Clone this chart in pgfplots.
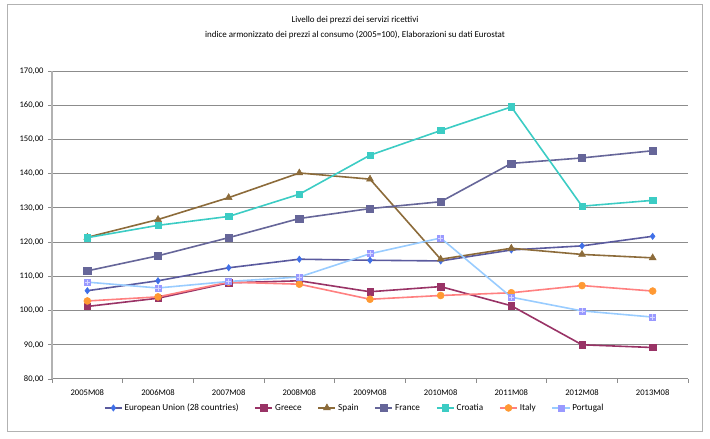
\documentclass[border=0pt]{standalone}
\usepackage{pgfplots}
\pgfplotsset{compat=1.18}
\usepackage{fontspec}
\setmainfont{Carlito}
\definecolor{euline}{HTML}{5A5A9E}
\definecolor{eumark}{HTML}{3F6FE8}
\definecolor{greece}{HTML}{993366}
\definecolor{spain}{HTML}{8C6B3A}
\definecolor{france}{HTML}{666699}
\definecolor{croatia}{HTML}{3CCCC4}
\definecolor{italyline}{HTML}{FF8080}
\definecolor{italymark}{HTML}{FF9933}
\definecolor{portline}{HTML}{99CCFF}
\definecolor{portmark}{HTML}{9999FF}
\definecolor{gridc}{HTML}{8C8C8C}
\begin{document}
\begin{tikzpicture}[x=1bp,y=1bp]
\path[use as bounding box] (0,0) rectangle (710,439);
\draw[line width=1bp, black!30] (7,7) rectangle (702,434);
\node[font=\fontsize{9}{10}\selectfont] at (355,419) {Livello dei prezzi dei servizi ricettivi};
\node[font=\fontsize{9}{10}\selectfont] at (355,404) {indice armonizzato dei prezzi al consumo (2005=100), Elaborazioni su dati Eurostat};
\begin{axis}[
  at={(52bp,60bp)}, anchor=south west,
  width=636bp, height=308bp, scale only axis,
  xmin=-0.5, xmax=8.5, ymin=80, ymax=170,
  xtick={0,...,8},
  xticklabels={2005M08,2006M08,2007M08,2008M08,2009M08,2010M08,2011M08,2012M08,2013M08},
  minor xtick={-0.5,0.5,...,8.5},
  major x tick style={draw=none},
  minor x tick style={gridc, line width=0.8bp},
  minor tick length=4bp,
  ytick={80,90,...,170},
  major y tick style={gridc, line width=0.8bp},
  major tick length=4bp,
  tick align=outside,
  axis x line*=bottom, axis y line*=left,
  axis line style={gridc, line width=1bp},
  y axis line style={black!30, line width=1.5bp},
  ymajorgrids, grid style={gridc, line width=1bp},
  /pgf/number format/assume math mode=true,
  yticklabel style={/pgf/number format/fixed, /pgf/number format/fixed zerofill, /pgf/number format/precision=2, /pgf/number format/use comma, xshift=-1bp},
  ticklabel style={font=\fontsize{8.6}{9}\selectfont},
  xticklabel style={yshift=-3bp},
  legend columns=7,
  legend style={at={(0.476,-0.094)}, anchor=center, draw=none, fill=none,
    font=\fontsize{9.2}{10}\selectfont, column sep=0bp,
    /tikz/every even column/.append style={column sep=14bp}},
  legend image post style={xscale=1.0},
  every axis plot/.append style={line width=1.6bp},
]
\addplot[euline, mark=diamond*, mark size=3.2bp, mark options={fill=eumark, draw=eumark, line width=0.5bp}]
  coordinates {(0,105.8)(1,108.7)(2,112.5)(3,115.0)(4,114.7)(5,114.5)(6,117.7)(7,118.9)(8,121.7)};
\addlegendentry{European Union (28 countries)}
\addplot[greece, mark=square*, mark size=3.2bp, mark options={fill=greece, line width=0.5bp}]
  coordinates {(0,101.2)(1,103.6)(2,108.1)(3,108.7)(4,105.5)(5,107.0)(6,101.4)(7,90.0)(8,89.2)};
\addlegendentry{Greece}
\addplot[spain, mark=triangle*, mark size=4bp, mark options={fill=spain, line width=0.5bp}]
  coordinates {(0,121.4)(1,126.6)(2,133.0)(3,140.2)(4,138.4)(5,115.0)(6,118.2)(7,116.4)(8,115.4)};
\addlegendentry{Spain}
\addplot[france, mark=square*, mark size=3.6bp, mark options={fill=france, line width=0.5bp}]
  coordinates {(0,111.6)(1,116.0)(2,121.3)(3,126.9)(4,129.8)(5,131.8)(6,143.0)(7,144.6)(8,146.7)};
\addlegendentry{France}
\addplot[croatia, mark=square*, mark size=3.2bp, mark options={fill=croatia, line width=0.5bp}]
  coordinates {(0,121.3)(1,124.9)(2,127.5)(3,134.0)(4,145.4)(5,152.6)(6,159.5)(7,130.5)(8,132.2)};
\addlegendentry{Croatia}
\addplot[italyline, mark=*, mark size=3.5bp, mark options={fill=italymark, draw=italymark, line width=0.5bp}]
  coordinates {(0,102.8)(1,104.0)(2,108.3)(3,107.7)(4,103.3)(5,104.4)(6,105.2)(7,107.3)(8,105.7)};
\addlegendentry{Italy}
\addplot[portline, mark=square*, mark size=3bp, mark options={fill=portmark, draw=portmark, line width=0.5bp}]
  coordinates {(0,108.3)(1,106.6)(2,108.5)(3,109.8)(4,116.6)(5,121.2)(6,103.9)(7,99.9)(8,98.1)};
\addlegendentry{Portugal}
\addplot[draw=none, forget plot, mark=+, mark size=2.6bp, mark options={draw=white!60!portmark, line width=0.5bp}]
  coordinates {(0,108.3)(1,106.6)(2,108.5)(3,109.8)(4,116.6)(5,121.2)(6,103.9)(7,99.9)(8,98.1)};
\end{axis}
\end{tikzpicture}
\end{document}
